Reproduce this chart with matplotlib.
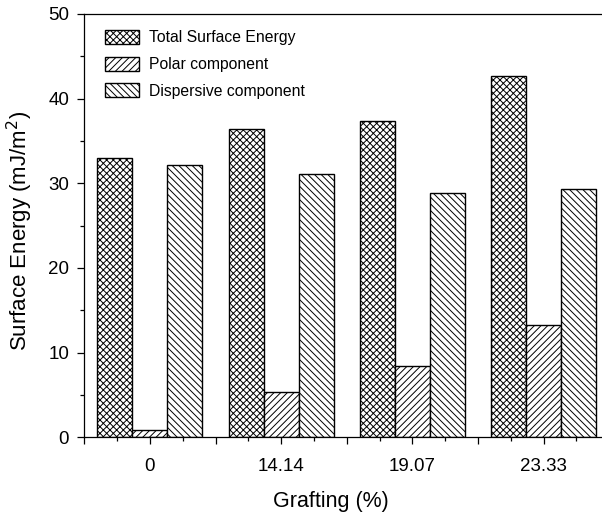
import matplotlib as mpl
import matplotlib.pyplot as plt
import numpy as np
from matplotlib.ticker import MultipleLocator

grafting = ['0', '14.14', '19.07', '23.33']
total = [33.0, 36.4, 37.4, 42.7]
polar = [0.9, 5.3, 8.4, 13.3]
dispersive = [32.1, 31.1, 28.9, 29.3]
series = ['Total Surface Energy', 'Polar component', 'Dispersive component']

plt.rcParams['font.family'] = ['Liberation Sans', 'DejaVu Sans']
plt.rcParams['hatch.linewidth'] = 0.7
plt.rcParams['hatch.color'] = 'black'

fig = plt.figure(figsize=(6.02, 5.12), dpi=100)
fig.set_facecolor('white')
ax = fig.add_axes([0.140, 0.146, 0.872, 0.827])

x = np.arange(len(grafting))
w = 0.8 / 3
hatches = ['xxxxx', '/////', '\\\\\\\\\\']
for i, (vals, h) in enumerate(zip([total, polar, dispersive], hatches)):
    ax.bar(x + (i - 1) * w, vals, w, facecolor='white', edgecolor='black',
           hatch=h, linewidth=1.0, label=series[i], zorder=2)

ax.set_xlim(-0.5, 3.5)
ax.set_ylim(0, 50)

# ticks: group centres and boundaries long, quarter points short
major = np.arange(-0.5, 3.51, 0.5)
labels = []
for m in major:
    labels.append(grafting[int(m)] if float(m).is_integer() else '')
ax.set_xticks(major)
ax.set_xticklabels(labels)
ax.xaxis.set_minor_locator(MultipleLocator(0.25))
ax.yaxis.set_major_locator(MultipleLocator(10))
ax.yaxis.set_minor_locator(MultipleLocator(5))
ax.tick_params(which='major', direction='out', length=5, width=0.9, labelsize=13.5, pad=5)
ax.tick_params(which='minor', direction='out', length=3, width=0.9)
ax.tick_params(axis='x', which='major', pad=10)
ax.tick_params(axis='y', which='major', pad=6)

for s in ['left', 'bottom', 'top']:
    ax.spines[s].set_linewidth(0.9)
ax.spines['right'].set_visible(False)

ax.set_xlabel('Grafting (%)', fontsize=15.5)
ax.set_ylabel('Surface Energy (mJ/m$^2$)', fontsize=16)
ax.xaxis.set_label_coords(0.47, -0.128)
ax.yaxis.set_label_coords(-0.094, 0.488)

ax.legend(loc='upper left', bbox_to_anchor=(0.039, 0.962), frameon=False,
          fontsize=11.3, borderpad=0, borderaxespad=0, handlelength=2.2,
          handleheight=1.0, labelspacing=0.72, handletextpad=0.6)

plt.savefig('out.png', dpi=100)
